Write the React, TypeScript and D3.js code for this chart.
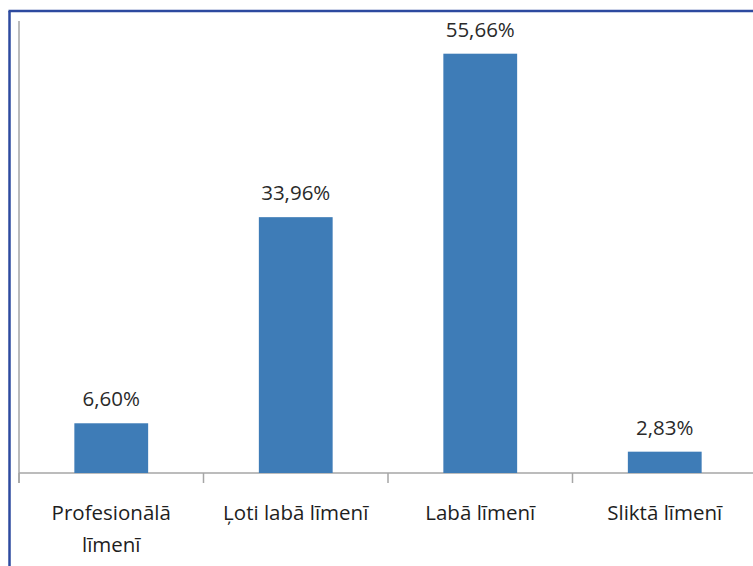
import React from "react";
import * as d3 from "d3";

const categories: string[][] = [
  ["Profesionālā", "līmenī"],
  ["Ļoti labā līmenī"],
  ["Labā līmenī"],
  ["Sliktā līmenī"],
];
const values: number[] = [6.6, 33.96, 55.66, 2.83];
const valueLabels: string[] = ["6,60%", "33,96%", "55,66%", "2,83%"];

const W = 753;
const H = 566;

export default function App() {
  const keys = categories.map((_, i) => String(i));
  const x = d3
    .scaleBand<string>()
    .domain(keys)
    .range([19, 757])
    .paddingInner(0.6)
    .paddingOuter(0.3);
  const y = d3.scaleLinear().domain([0, 60]).range([473, 21]);
  const step = x.step();
  const tickXs = keys.map((_, i) => 19 + i * step);
  const font = "'Open Sans', sans-serif";

  return (
    <svg
      width={W}
      height={H}
      style={{ position: "absolute", left: 0, top: 0, background: "#fff" }}
    >
      {/* frame */}
      <line x1={9.5} y1={11} x2={9.5} y2={H} stroke="#2d4a9f" strokeWidth={2.5} />
      <line x1={8.5} y1={11} x2={W} y2={11} stroke="#2d4a9f" strokeWidth={2.5} />

      {/* axes */}
      <line x1={19} y1={y(60)} x2={19} y2={483} stroke="#a6a6a6" strokeWidth={1.5} />
      <line x1={19} y1={y(0)} x2={W} y2={y(0)} stroke="#a6a6a6" strokeWidth={1.5} />
      {tickXs.map((tx, i) => (
        <line key={i} x1={tx} y1={y(0)} x2={tx} y2={483} stroke="#a6a6a6" strokeWidth={1.5} />
      ))}

      {/* bars */}
      {values.map((v, i) => (
        <rect
          key={i}
          x={x(String(i))}
          y={y(v)}
          width={x.bandwidth()}
          height={y(0) - y(v)}
          fill="#3e7cb7"
        />
      ))}

      {/* value labels */}
      {values.map((v, i) => (
        <text
          key={i}
          x={(x(String(i)) as number) + x.bandwidth() / 2}
          y={y(v) - 17}
          textAnchor="middle"
          fontFamily={font}
          fontSize={20.5}
          fill="#2a2a2a"
        >
          {valueLabels[i]}
        </text>
      ))}

      {/* category labels */}
      {categories.map((lines, i) => (
        <text
          key={i}
          x={(x(String(i)) as number) + x.bandwidth() / 2}
          y={520}
          textAnchor="middle"
          fontFamily={font}
          fontSize={20.5}
          fill="#1e1e1e"
        >
          {lines.map((l, j) => (
            <tspan key={j} x={(x(String(i)) as number) + x.bandwidth() / 2} dy={j === 0 ? 0 : 32}>
              {l}
            </tspan>
          ))}
        </text>
      ))}
    </svg>
  );
}
